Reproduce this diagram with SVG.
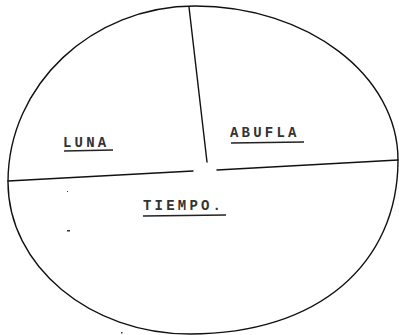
<svg xmlns="http://www.w3.org/2000/svg" width="399" height="335" viewBox="0 0 399 335">
<style>
.ln{fill:none;stroke:#111;stroke-width:1.4;stroke-linecap:round}
.ul{fill:none;stroke:#222;stroke-width:1.3}
.lb{font-family:"Liberation Mono","DejaVu Sans Mono",monospace;font-size:14px;font-weight:bold;fill:#333;letter-spacing:3.2px}
</style>
<rect width="399" height="335" fill="#fff"/>
<g id="outline">
<path class="ln" d="M195,6 C307,6 398,75 398,160 C398,264 318,334 190,334 C90,334 8,266 8,182 C8,85 92,6 195,6 Z"/>
</g>
<g id="connectors">
<line class="ln" x1="189" y1="7" x2="207" y2="162"/>
<line class="ln" x1="8" y1="181" x2="193" y2="171"/>
<line class="ln" x1="217" y1="170" x2="398" y2="160"/>
</g>
<g id="luna">
<text class="lb" x="63" y="147">LUNA</text>
<line class="ul" x1="64" y1="151" x2="113" y2="150"/>
</g>
<g id="abuela">
<text class="lb" x="230" y="137">ABUFLA</text>
<line class="ul" x1="231" y1="143" x2="304" y2="142"/>
</g>
<g id="tiempo">
<text class="lb" x="143" y="210">TIEMPO.</text>
<line class="ul" x1="143" y1="216" x2="226" y2="215"/>
</g>
<g id="specks" fill="#333">
<rect x="67" y="191" width="1" height="1"/>
<rect x="67" y="230" width="3" height="1.5"/>
<rect x="121" y="332" width="1.5" height="1.5"/>
</g>
</svg>
